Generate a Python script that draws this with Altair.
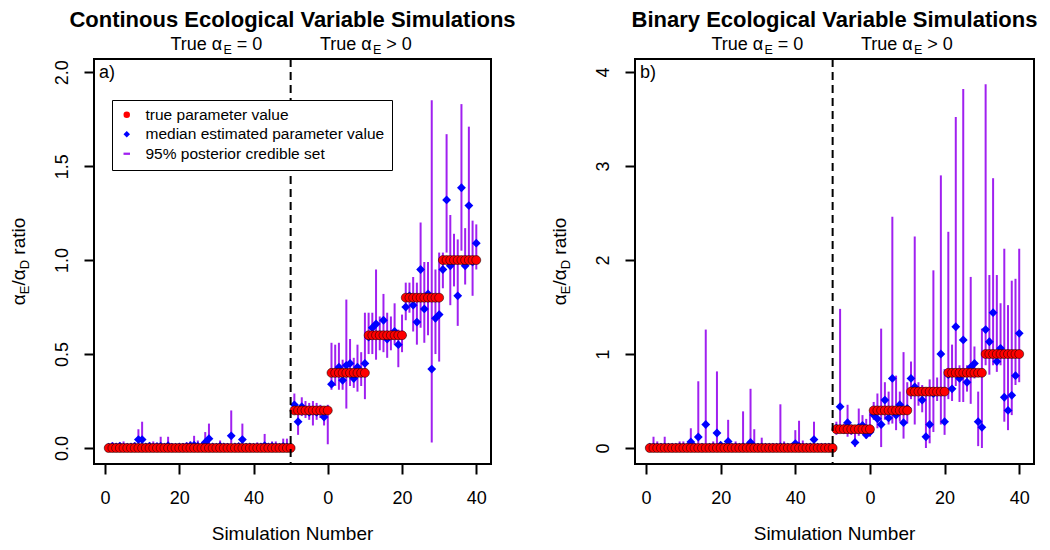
import altair as alt
import pandas as pd

FONT = "Liberation Sans"
RED = "#FF0000"
BLUE = "#0000FF"
PURPLE = "#A020F0"

# ---------------- data ----------------
SIM = list(range(1, 101))
TRUE_LEVELS = [0.0, 0.2, 0.4, 0.6, 0.8, 1.0]
LEVEL_SIZES = [50, 10, 10, 10, 10, 10]
TRUE = [lv for lv, n in zip(TRUE_LEVELS, LEVEL_SIZES) for _ in range(n)]

A_MED = [
    0.005, 0.008, 0.006, 0.010, 0.004, 0.005, 0.006, 0.008, 0.045, 0.045,
    0.006, 0.010, 0.005, 0.008, 0.010, 0.005, 0.012, 0.005, 0.004, 0.006,
    0.005, 0.008, 0.012, 0.015, 0.010, 0.006, 0.030, 0.050, 0.006, 0.005,
    0.010, 0.006, 0.005, 0.065, 0.006, 0.008, 0.045, 0.005, 0.006, 0.005,
    0.004, 0.006, 0.012, 0.006, 0.008, 0.006, 0.005, 0.008, 0.006, 0.005,
    0.23, 0.14, 0.22, 0.20, 0.19, 0.20, 0.19, 0.20, 0.165, 0.20,
    0.34, 0.40, 0.43, 0.36, 0.44, 0.45, 0.37, 0.43, 0.40, 0.45,
    0.59, 0.64, 0.66, 0.60, 0.68, 0.58, 0.60, 0.62, 0.55, 0.60,
    0.75, 0.81, 0.76, 0.67, 0.95, 0.74, 0.82, 0.42, 0.69, 0.71,
    0.95, 1.32, 0.97, 1.00, 0.81, 1.385, 0.97, 1.29, 0.99, 1.09,
]
A_LO = [
    0.0, 0.0, 0.0, 0.0, 0.0, 0.0, 0.0, 0.0, 0.0, 0.0,
    0.0, 0.0, 0.0, 0.0, 0.0, 0.0, 0.0, 0.0, 0.0, 0.0,
    0.0, 0.0, 0.0, 0.0, 0.0, 0.0, 0.0, 0.0, 0.0, 0.0,
    0.0, 0.0, 0.0, 0.0, 0.0, 0.0, 0.0, 0.0, 0.0, 0.0,
    0.0, 0.0, 0.0, 0.0, 0.0, 0.0, 0.0, 0.0, 0.0, 0.0,
    0.18, 0.07, 0.17, 0.16, 0.15, 0.12, 0.15, 0.16, 0.12, 0.02,
    0.31, 0.33, 0.31, 0.31, 0.21, 0.33, 0.32, 0.30, 0.33, 0.26,
    0.50, 0.50, 0.47, 0.52, 0.51, 0.48, 0.52, 0.55, 0.43, 0.51,
    0.68, 0.72, 0.62, 0.55, 0.64, 0.56, 0.60, 0.03, 0.50, 0.46,
    0.85, 1.04, 0.76, 0.86, 0.65, 1.05, 0.87, 1.00, 0.81, 0.95,
]
A_HI = [
    0.02, 0.03, 0.025, 0.03, 0.035, 0.02, 0.02, 0.03, 0.10, 0.14,
    0.02, 0.03, 0.035, 0.02, 0.06, 0.02, 0.06, 0.025, 0.02, 0.02,
    0.025, 0.03, 0.035, 0.065, 0.04, 0.02, 0.085, 0.13, 0.02, 0.02,
    0.04, 0.02, 0.025, 0.20, 0.02, 0.025, 0.13, 0.02, 0.025, 0.02,
    0.03, 0.02, 0.075, 0.025, 0.035, 0.035, 0.02, 0.05, 0.05, 0.02,
    0.29, 0.21, 0.27, 0.25, 0.24, 0.25, 0.24, 0.23, 0.22, 0.23,
    0.56, 0.55, 0.56, 0.47, 0.79, 0.58, 0.48, 0.55, 0.51, 0.72,
    0.72, 0.72, 0.95, 0.70, 0.82, 0.72, 0.70, 0.77, 0.63, 0.71,
    0.88, 0.88, 0.91, 0.88, 1.20, 0.99, 0.99, 1.85, 0.95, 1.04,
    1.04, 1.67, 1.24, 1.14, 1.11, 1.83, 1.17, 1.71, 1.21, 1.19,
]

B_MED = [
    0.010, 0.012, 0.008, 0.010, 0.012, 0.008, 0.010, 0.008, 0.012, 0.010,
    0.010, 0.065, 0.012, 0.117, 0.010, 0.25, 0.010, 0.012, 0.16, 0.030,
    0.010, 0.070, 0.010, 0.012, 0.010, 0.015, 0.010, 0.060, 0.012, 0.010,
    0.012, 0.010, 0.008, 0.010, 0.010, 0.015, 0.012, 0.010, 0.010, 0.047,
    0.020, 0.010, 0.010, 0.012, 0.090, 0.010, 0.008, 0.010, 0.010, 0.008,
    0.21, 0.44, 0.20, 0.27, 0.19, 0.06, 0.22, 0.24, 0.14, 0.17,
    0.35, 0.31, 0.25, 0.51, 0.32, 0.74, 0.35, 0.46, 0.27, 0.42,
    0.74, 0.65, 0.60, 0.51, 0.12, 0.25, 0.58, 0.60, 1.00, 0.28,
    0.78, 0.63, 1.29, 0.74, 1.15, 0.70, 0.86, 0.90, 0.28, 0.22,
    1.26, 1.13, 1.44, 0.92, 1.06, 0.54, 0.40, 0.56, 0.77, 1.22,
]
B_LO = [
    0.0, 0.0, 0.0, 0.0, 0.0, 0.0, 0.0, 0.0, 0.0, 0.0,
    0.0, 0.0, 0.0, 0.0, 0.0, 0.0, 0.0, 0.0, 0.0, 0.0,
    0.0, 0.0, 0.0, 0.0, 0.0, 0.0, 0.0, 0.0, 0.0, 0.0,
    0.0, 0.0, 0.0, 0.0, 0.0, 0.0, 0.0, 0.0, 0.0, 0.0,
    0.0, 0.0, 0.0, 0.0, 0.0, 0.0, 0.0, 0.0, 0.0, 0.0,
    0.14, 0.17, 0.15, 0.12, 0.14, 0.01, 0.13, 0.15, 0.10, 0.12,
    0.30, 0.21, 0.01, 0.30, 0.25, 0.26, 0.19, 0.28, 0.10, 0.26,
    0.52, 0.25, 0.45, 0.38, 0.00, 0.05, 0.17, 0.50, 0.25, 0.14,
    0.52, 0.50, 0.66, 0.49, 0.49, 0.60, 0.47, 0.74, 0.02, 0.00,
    0.88, 0.78, 0.88, 0.81, 0.88, 0.28, 0.19, 0.35, 0.67, 0.70,
]
B_HI = [
    0.03, 0.12, 0.07, 0.03, 0.12, 0.03, 0.02, 0.03, 0.07, 0.07,
    0.03, 0.21, 0.03, 0.71, 0.03, 1.26, 0.03, 0.07, 0.815, 0.04,
    0.03, 0.30, 0.03, 0.07, 0.03, 0.39, 0.03, 0.63, 0.20, 0.03,
    0.11, 0.04, 0.03, 0.03, 0.03, 0.465, 0.07, 0.03, 0.03, 0.19,
    0.29, 0.08, 0.03, 0.03, 0.28, 0.03, 0.02, 0.03, 0.03, 0.02,
    0.28, 1.48, 0.26, 0.46, 0.25, 0.24, 0.42, 0.35, 0.31, 0.38,
    0.49, 0.58, 1.27, 0.70, 0.60, 2.46, 0.77, 0.60, 1.02, 0.70,
    0.92, 2.25, 0.70, 0.67, 0.60, 0.73, 1.89, 0.75, 2.90, 0.84,
    2.30, 1.10, 3.52, 0.88, 3.82, 0.88, 1.82, 1.08, 0.60, 1.27,
    3.87, 1.84, 2.87, 1.84, 1.54, 2.12, 1.52, 1.78, 1.80, 2.12,
]

X_TICKS = [0, 20, 40, 60, 80, 100]
SPLIT = [50]
A_YTICKS = [0.0, 0.5, 1.0, 1.5, 2.0]
B_YTICKS = [0, 1, 2, 3, 4]
LEGEND_NAMES = ["true parameter value", "median estimated parameter value",
                "95% posterior credible set"]
TITLES = ["Continous Ecological Variable Simulations",
          "Binary Ecological Variable Simulations"]
LETTERS = ["a)", "b)"]

XDOM = [-2.96, 103.96]
H = 405

EM = {"T": .611, "r": .333, "u": .556, "e": .556, " ": .278, "α": .578,
      "E": .667, "D": .722, "/": .278, "a": .556, "t": .278, "i": .222,
      "o": .556, "=": .584, ">": .584, "0": .556}


def tw(s, fs):
    return sum(EM.get(c, .556) for c in s) * fs


def txt(text, x, y, fs, align="left", angle=0, bold=False):
    return alt.Chart(pd.DataFrame({"t": [text]})).mark_text(
        align=align, baseline="alphabetic", fontSize=fs, angle=angle,
        font=FONT, fontWeight="bold" if bold else "normal", color="black"
    ).encode(text="t:N", x=alt.value(x), y=alt.value(y))


def true_label(sign, xstart, ybase):
    fs, sfs = 18, 12.5
    w1 = tw("True α", fs)
    xe = xstart + w1 + 0.5
    return [
        txt("True α", xstart, ybase, fs),
        txt("E", xe, ybase + 4, sfs),
        txt(sign + " 0", xe + tw("E", sfs) + tw(" ", fs), ybase, fs),
    ]


def y_title(bx):
    fs, sfs = 19, 13
    pieces = [("α", fs, 0), ("E", sfs, 4), ("/", fs, 0), ("α", fs, 0),
              ("D", sfs, 4), (" ratio", fs, 0)]
    total = sum(tw(p, f) for p, f, _ in pieces)
    y0 = H / 2 + total / 2
    out, cum = [], 0.0
    for p, f, off in pieces:
        lead = len(p) - len(p.lstrip(" "))
        s = p.lstrip(" ")
        out.append(txt(s, bx + off, y0 - cum - tw(" " * lead, f), f, angle=270))
        cum += tw(p, f)
    return out


def panel(med, lo, hi, width, ydom, yticks, yfmt, idx, with_legend):
    df = pd.DataFrame({"sim": SIM, "truth": TRUE, "med": med, "lo": lo, "hi": hi})
    xs = alt.Scale(domain=XDOM, nice=False, zero=False)
    ys = alt.Scale(domain=ydom, nice=False, zero=False)
    xaxis = alt.Axis(values=X_TICKS, title=None, grid=False, domain=False,
                     tickSize=10, tickWidth=2, tickColor="black",
                     labelFontSize=18, labelFont=FONT, labelColor="black",
                     labelPadding=15, labelFlush=False, labelOverlap=False,
                     labelExpr="datum.value >= 60 ? format(datum.value - 60, 'd') : format(datum.value, 'd')")
    yaxis = alt.Axis(values=yticks, format=yfmt, title=None, grid=False,
                     domain=False, tickSize=10, tickWidth=2, tickColor="black",
                     labelFontSize=18, labelFont=FONT, labelColor="black",
                     labelAngle=270, labelAlign="center",
                     labelBaseline="alphabetic", labelPadding=17,
                     labelOverlap=False, labelFlush=False)
    X = lambda f: alt.X(f, scale=xs, axis=xaxis, title=None)
    Y = lambda f: alt.Y(f, scale=ys, axis=yaxis, title=None)
    base = alt.Chart(df)
    ci = base.mark_rule(color=PURPLE, strokeWidth=2).encode(
        x=X("sim:Q"), y=Y("lo:Q"), y2="hi:Q")
    dia = base.mark_point(shape="diamond", filled=True, color=BLUE, size=78,
                          opacity=1).encode(x=X("sim:Q"), y=Y("med:Q"))
    tru = base.mark_point(shape="circle", filled=True, fill=RED, stroke="black",
                          strokeWidth=0.5, size=81, opacity=1).encode(
        x=X("sim:Q"), y=Y("truth:Q"))
    split = alt.Chart(pd.DataFrame({"split": SPLIT})).mark_rule(
        color="black", strokeWidth=2, strokeDash=[8, 5]).encode(x=X("split:Q"))
    layers = [ci, dia, tru, split]
    layers += true_label("=", 76.5, -9)
    layers += true_label(">", 226, -9)
    layers.append(txt(LETTERS[idx], 5, 19, 18))
    layers.append(txt(TITLES[idx], width / 2, -32, 22, align="center", bold=True))
    layers.append(txt("Simulation Number", width / 2, H + 76, 19, align="center"))
    layers += y_title(-69)
    if with_legend:
        leg = alt.Legend(title=None, orient="none", legendX=18, legendY=41,
                         strokeColor="black", fillColor="white", padding=7,
                         labelFontSize=15.5, labelFont=FONT, labelColor="black",
                         labelOffset=11, rowPadding=2.5, symbolSize=42,
                         symbolStrokeWidth=0, labelLimit=400, symbolOpacity=1)
        ldf = pd.DataFrame({"series": LEGEND_NAMES, "lx": [-50] * 3, "ly": [-50] * 3})
        dummy = alt.Chart(ldf).mark_point(filled=True, clip=True, opacity=1).encode(
            x=X("lx:Q"), y=Y("ly:Q"),
            color=alt.Color("series:N", scale=alt.Scale(domain=LEGEND_NAMES,
                            range=[RED, BLUE, PURPLE]), legend=leg, sort=LEGEND_NAMES),
            shape=alt.Shape("series:N", scale=alt.Scale(domain=LEGEND_NAMES,
                            range=["circle", "diamond", "M-1,-0.35H1V0.35H-1Z"]),
                            legend=leg, sort=LEGEND_NAMES))
        layers.append(dummy)
    return alt.layer(*layers).properties(width=width, height=H)


pa = panel(A_MED, A_LO, A_HI, 397, [-0.085, 2.07], A_YTICKS, ".1f", 0, True)
pb = panel(B_MED, B_LO, B_HI, 399, [-0.17, 4.138], B_YTICKS, "d", 1, False)

chart = alt.hconcat(pa, pb, spacing=144, bounds="flush").properties(
    padding={"left": 0, "top": 0, "right": 0, "bottom": 0}
).configure(font=FONT).configure_view(stroke="black", strokeWidth=2)

chart.save("out.html", embed_options={"renderer": "svg", "actions": False})
